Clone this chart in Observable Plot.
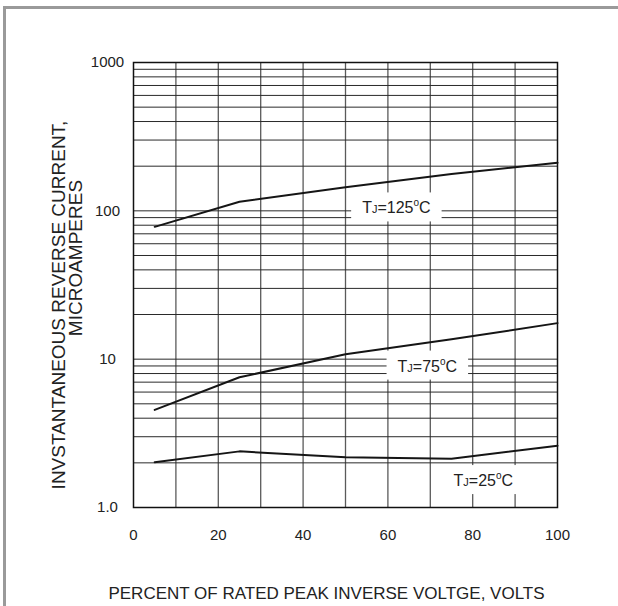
<!DOCTYPE html>
<html><head><meta charset="utf-8">
<script src="https://cdn.jsdelivr.net/npm/d3@7"></script>
<script src="https://cdn.jsdelivr.net/npm/@observablehq/plot@0.6"></script>
<style>
html,body{margin:0;background:#fff;overflow:hidden;}
#wrap{position:relative;width:618px;height:606px;overflow:hidden;background:#fff;}
#chart{position:absolute;left:0;top:0;}
#border{position:absolute;left:3px;top:6px;width:700px;height:700px;border-top:3px solid #9a9a9a;border-left:3px solid #9a9a9a;pointer-events:none;}
</style></head><body>
<div id="wrap"><div id="chart"></div><div id="border"></div></div>
<script>
// Data
const pctX = [5, 25, 50, 75, 100];
const tj125 = [78, 115, 144, 177, 211];
const tj75 = [4.55, 7.55, 10.8, 13.6, 17.5];
const tj25 = [2.02, 2.39, 2.18, 2.13, 2.61];

const xTicks = [0, 20, 40, 60, 80, 100];
const xGrid = [10, 20, 30, 40, 50, 60, 70, 80, 90];
const yTicks = [1, 10, 100, 1000];
const yTickLabels = ["1.0", "10", "100", "1000"];
const yGrid = [2,3,4,5,6,7,8,9,10,20,30,40,50,60,70,80,90,100,200,300,400,500,600,700,800,900];

const curveNames = ["TJ=125°C", "TJ=75°C", "TJ=25°C"];
const labelX = [62, 69.3, 82.5];
const labelY = [104, 8.93, 1.51];

const xTitle = "PERCENT OF RATED PEAK INVERSE VOLTGE, VOLTS";
const yTitle1 = "INVSTANTANEOUS REVERSE CURRENT,";
const yTitle2 = "MICROAMPERES";

const series = [tj125, tj75, tj25].map(vals => pctX.map((x, i) => ({x, y: vals[i]})));
const labels = curveNames.map((t, i) => ({x: labelX[i], y: labelY[i], t}));

const svg = Plot.plot({
  width: 618, height: 606,
  marginLeft: 133, marginRight: 61, marginTop: 62, marginBottom: 99,
  style: {fontFamily: "'Liberation Sans', Arial, Helvetica, sans-serif", fontSize: "15px", background: "transparent", color: "#222"},
  x: {domain: [0, 100]},
  y: {type: "log", domain: [1, 1000]},
  marks: [
    Plot.ruleX(xGrid, {stroke: "#5a5a5a", strokeWidth: 1.3}),
    Plot.ruleY(yGrid, {stroke: "#2a2a2a", strokeWidth: 1}),
    Plot.frame({stroke: "#111", strokeWidth: 1.5}),
    ...series.map(d => Plot.line(d, {x: "x", y: "y", stroke: "#151515", strokeWidth: 2})),
    Plot.text(labels, {x: "x", y: "y", text: "t", fontSize: 16, fill: "#222"}),
    Plot.axisX({ticks: xTicks, tickSize: 0, tickPadding: 22, label: null, fontSize: 15}),
    Plot.axisY({ticks: yTicks, tickFormat: d => yTickLabels[yTicks.indexOf(d)], tickSize: 0, tickPadding: 26, textAnchor: "middle", label: null, fontSize: 15}),
    Plot.text([xTitle], {frameAnchor: "bottom", textAnchor: "middle", lineAnchor: "middle", dx: -19, dy: 86, fontSize: 17, fill: "#222"}),
    Plot.text([yTitle1], {frameAnchor: "left", textAnchor: "middle", lineAnchor: "middle", rotate: -90, dx: -75, dy: 20, fontSize: 19, fill: "#222"}),
    Plot.text([yTitle2], {frameAnchor: "left", textAnchor: "middle", lineAnchor: "middle", rotate: -90, dx: -58, dy: -27, fontSize: 19, fill: "#222"})
  ]
});
document.getElementById("chart").appendChild(svg);

// Style curve labels: small J, raised "o" degree mark, white box behind
const NS = "http://www.w3.org/2000/svg";
svg.querySelectorAll("text").forEach(t => {
  const s = t.textContent;
  if (!curveNames.includes(s)) return;
  const m = s.match(/^T(J)=(\d+)°C$/);
  while (t.firstChild) t.removeChild(t.firstChild);
  const parts = [
    {txt: "T"}, {txt: m[1], size: 11}, {txt: "=" + m[2]}, {txt: "o", size: 10, dy: -7}, {txt: "C", dy: 7}
  ];
  parts.forEach(p => {
    const ts = document.createElementNS(NS, "tspan");
    ts.textContent = p.txt;
    if (p.size) ts.setAttribute("font-size", p.size);
    if (p.dy) ts.setAttribute("dy", p.dy);
    t.appendChild(ts);
  });
  const bb = t.getBBox();
  const r = document.createElementNS(NS, "rect");
  r.setAttribute("x", bb.x - 11);
  r.setAttribute("y", bb.y - 5);
  r.setAttribute("width", bb.width + 22);
  r.setAttribute("height", bb.height + 10);
  r.setAttribute("fill", "#fff");
  if (t.getAttribute("transform")) r.setAttribute("transform", t.getAttribute("transform"));
  t.parentNode.insertBefore(r, t);
});
</script>
</body></html>
